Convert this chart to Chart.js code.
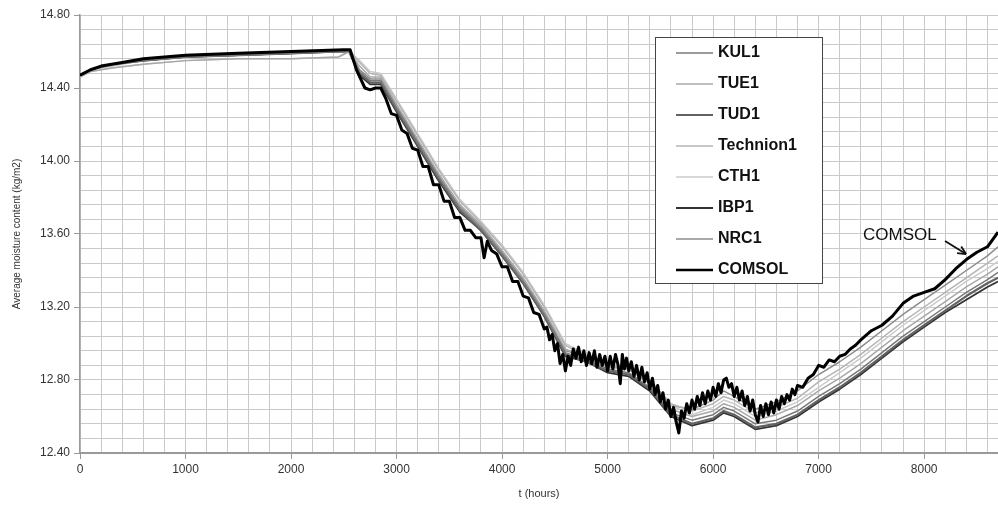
<!DOCTYPE html>
<html>
<head>
<meta charset="utf-8">
<script src="https://cdn.jsdelivr.net/npm/chart.js@4.4.1/dist/chart.umd.min.js"></script>
<style>
  html, body { margin: 0; padding: 0; background: #fff; }
  #wrap { width: 998px; height: 506px; position: relative; }
</style>
</head>
<body>
<div id="wrap"><canvas id="myChart"></canvas></div>
<script>
// hours shared by the benchmark series
var hours = [0, 100, 300, 600, 1000, 1500, 2000, 2450, 2550, 2650, 2750, 2850, 3000, 3200, 3400, 3600, 3800, 4000, 4200, 4400, 4600, 4800, 5000, 5200, 5400, 5600, 5800, 6000, 6100, 6200, 6400, 6600, 6800, 7000, 7200, 7400, 7600, 7800, 8000, 8200, 8400, 8600, 8700];

var kul1 = [14.47, 14.50, 14.53, 14.55, 14.57, 14.58, 14.59, 14.60, 14.60, 14.49, 14.44, 14.44, 14.29, 14.10, 13.91, 13.74, 13.63, 13.49, 13.34, 13.16, 12.95, 12.91, 12.86, 12.84, 12.76, 12.62, 12.58, 12.61, 12.65, 12.63, 12.56, 12.58, 12.63, 12.71, 12.78, 12.86, 12.95, 13.04, 13.12, 13.20, 13.28, 13.35, 13.39];
var tue1 = [14.46, 14.49, 14.51, 14.53, 14.55, 14.56, 14.56, 14.57, 14.60, 14.52, 14.46, 14.46, 14.31, 14.12, 13.93, 13.76, 13.65, 13.51, 13.36, 13.18, 12.97, 12.92, 12.87, 12.86, 12.78, 12.64, 12.60, 12.63, 12.67, 12.65, 12.58, 12.61, 12.66, 12.74, 12.81, 12.89, 12.98, 13.07, 13.15, 13.23, 13.31, 13.38, 13.42];
var tud1 = [14.47, 14.50, 14.53, 14.55, 14.57, 14.58, 14.59, 14.60, 14.60, 14.48, 14.43, 14.43, 14.28, 14.09, 13.90, 13.73, 13.62, 13.48, 13.33, 13.15, 12.94, 12.90, 12.85, 12.83, 12.75, 12.61, 12.56, 12.59, 12.63, 12.61, 12.54, 12.56, 12.61, 12.69, 12.76, 12.84, 12.93, 13.02, 13.10, 13.18, 13.26, 13.33, 13.36];
var technion1 = [14.47, 14.50, 14.52, 14.55, 14.57, 14.58, 14.59, 14.60, 14.61, 14.54, 14.48, 14.47, 14.33, 14.14, 13.95, 13.78, 13.66, 13.53, 13.38, 13.20, 12.99, 12.93, 12.88, 12.87, 12.80, 12.67, 12.63, 12.67, 12.71, 12.69, 12.62, 12.65, 12.70, 12.79, 12.86, 12.94, 13.03, 13.12, 13.20, 13.28, 13.36, 13.44, 13.48];
var cth1 = [14.46, 14.49, 14.51, 14.53, 14.55, 14.56, 14.56, 14.57, 14.60, 14.55, 14.49, 14.48, 14.34, 14.15, 13.96, 13.79, 13.67, 13.54, 13.39, 13.21, 13.00, 12.94, 12.88, 12.87, 12.79, 12.66, 12.61, 12.65, 12.69, 12.67, 12.60, 12.63, 12.68, 12.76, 12.84, 12.92, 13.01, 13.10, 13.18, 13.26, 13.34, 13.41, 13.45];
var ibp1 = [14.47, 14.50, 14.53, 14.55, 14.57, 14.58, 14.59, 14.60, 14.60, 14.47, 14.42, 14.42, 14.27, 14.08, 13.89, 13.72, 13.62, 13.48, 13.33, 13.15, 12.93, 12.90, 12.84, 12.82, 12.74, 12.60, 12.55, 12.58, 12.62, 12.60, 12.53, 12.55, 12.60, 12.68, 12.75, 12.83, 12.92, 13.01, 13.09, 13.17, 13.24, 13.31, 13.34];
var nrc1 = [14.47, 14.50, 14.53, 14.55, 14.57, 14.58, 14.59, 14.60, 14.61, 14.50, 14.45, 14.45, 14.30, 14.11, 13.92, 13.75, 13.64, 13.50, 13.35, 13.17, 12.96, 12.93, 12.88, 12.86, 12.79, 12.66, 12.64, 12.69, 12.74, 12.71, 12.64, 12.68, 12.74, 12.83, 12.90, 12.98, 13.07, 13.16, 13.24, 13.32, 13.40, 13.48, 13.53];

// COMSOL is noisy, read on a finer set of hours
var hoursComsol = [0, 100, 200, 400, 600, 800, 1000, 1500, 2000, 2500, 2560, 2620, 2700, 2750, 2800, 2850,
  2900, 2950, 3000, 3050, 3100, 3150, 3200, 3250, 3300, 3350, 3400, 3450, 3500, 3550, 3600, 3650, 3700, 3750, 3800, 3830, 3860, 3900, 3950, 4000, 4050, 4100, 4150, 4200, 4250, 4300, 4350, 4400,
  4425, 4450, 4475, 4500, 4525, 4550, 4575, 4600, 4625, 4650, 4675, 4700, 4725, 4750, 4775, 4800, 4825, 4850, 4875, 4900, 4925, 4950, 4975, 5000, 5025, 5050, 5075, 5100, 5120, 5140, 5160, 5180, 5200, 5225, 5250, 5275, 5300, 5325, 5350, 5375, 5400, 5425, 5450, 5475, 5500, 5525, 5550, 5575, 5600, 5625, 5650, 5675, 5700, 5725, 5750, 5775, 5800, 5825, 5850, 5875, 5900, 5925, 5950, 5975, 6000, 6025, 6050, 6075, 6100, 6125, 6150, 6175, 6200, 6225, 6250, 6275, 6300, 6325, 6350, 6375, 6400, 6425, 6450, 6475, 6500, 6525, 6550, 6575, 6600, 6625, 6650, 6675, 6700, 6725, 6750, 6775, 6800, 6850, 6900, 6950, 7000,
  7050, 7100, 7150, 7200, 7250, 7300, 7350, 7400, 7500, 7600, 7700, 7800, 7900, 8000, 8100, 8200, 8300, 8400, 8500, 8600, 8700];
var comsol = [14.47, 14.50, 14.52, 14.54, 14.56, 14.57, 14.58, 14.59, 14.60, 14.61, 14.61, 14.50, 14.40, 14.39, 14.40, 14.40,
  14.34, 14.26, 14.25, 14.17, 14.15, 14.07, 14.06, 13.97, 13.97, 13.87, 13.87, 13.78, 13.78, 13.69, 13.69, 13.62, 13.62, 13.58, 13.58, 13.47, 13.56, 13.51, 13.49, 13.42, 13.42, 13.34, 13.34, 13.26, 13.25, 13.17, 13.16, 13.08,
  13.09, 13.02, 13.05, 12.96, 13.00, 12.89, 12.94, 12.85, 12.93, 12.88, 12.97, 12.92, 12.98, 12.90, 12.96, 12.88, 12.95, 12.89, 12.96, 12.87, 12.94, 12.88, 12.93, 12.85, 12.93, 12.86, 12.94, 12.88, 12.78, 12.94, 12.86, 12.92, 12.85, 12.90, 12.82, 12.88, 12.80, 12.87, 12.79, 12.84, 12.75, 12.81, 12.72, 12.77, 12.68, 12.73, 12.64, 12.69, 12.60, 12.65, 12.57, 12.51, 12.63, 12.59, 12.67, 12.62, 12.69, 12.64, 12.71, 12.66, 12.73, 12.67, 12.74, 12.69, 12.76, 12.71, 12.78, 12.73, 12.80, 12.81, 12.76, 12.78, 12.71, 12.76, 12.69, 12.74, 12.66, 12.71, 12.63, 12.69, 12.61, 12.57, 12.66, 12.60, 12.67, 12.61, 12.68, 12.62, 12.69, 12.64, 12.71, 12.67, 12.72, 12.69, 12.75, 12.72, 12.77, 12.76, 12.81, 12.83, 12.88,
  12.87, 12.91, 12.90, 12.93, 12.94, 12.97, 12.99, 13.02, 13.07, 13.10, 13.15, 13.22, 13.26, 13.28, 13.30, 13.35, 13.41, 13.46, 13.50, 13.53, 13.61];

var seriesNames = ['KUL1', 'TUE1', 'TUD1', 'Technion1', 'CTH1', 'IBP1', 'NRC1', 'COMSOL'];
var seriesColors = ['#7a7a7a', '#a8a8a8', '#626262', '#b4b4b4', '#cbcbcb', '#333333', '#8c8c8c', '#000000'];
var seriesWidths = [1.5, 1.5, 2.2, 1.5, 1.5, 1.8, 1.5, 3];

function pts(xs, ys) {
  return xs.map(function (h, i) { return { x: h, y: ys[i] }; });
}

var seriesData = [
  pts(hours, kul1), pts(hours, tue1), pts(hours, tud1), pts(hours, technion1),
  pts(hours, cth1), pts(hours, ibp1), pts(hours, nrc1), pts(hoursComsol, comsol)
];

var FONT = '"Liberation Sans", Arial, sans-serif';

// legend box + COMSOL arrow, drawn over the lines
var boxLegend = {
  id: 'boxLegend',
  afterDatasetsDraw: function (chart) {
    var c = chart.ctx;
    c.save();
    c.fillStyle = '#fff';
    c.fillRect(655, 37, 167, 246);
    c.strokeStyle = '#444';
    c.lineWidth = 1;
    c.strokeRect(655.5, 37.5, 167, 246);
    c.font = 'bold 16px ' + FONT;
    c.textBaseline = 'middle';
    c.fillStyle = '#111';
    chart.data.datasets.forEach(function (ds, i) {
      var y = 53 + i * 31;
      c.strokeStyle = ds.borderColor;
      c.lineWidth = Math.min(ds.borderWidth, 2.4);
      c.beginPath();
      c.moveTo(676, y);
      c.lineTo(713, y);
      c.stroke();
      c.fillText(ds.label, 718, y);
    });

    var xs = chart.scales.x, ys = chart.scales.y;
    c.font = '17px ' + FONT;
    c.fillStyle = '#111';
    c.textBaseline = 'middle';
    c.fillText('COMSOL', xs.getPixelForValue(7421), ys.getPixelForValue(13.595));
    var x1 = xs.getPixelForValue(8198), y1 = ys.getPixelForValue(13.562);
    var x2 = xs.getPixelForValue(8397), y2 = ys.getPixelForValue(13.49);
    c.strokeStyle = '#111';
    c.lineWidth = 1.8;
    c.beginPath();
    c.moveTo(x1, y1);
    c.lineTo(x2, y2);
    c.stroke();
    var a = Math.atan2(y2 - y1, x2 - x1);
    c.beginPath();
    c.moveTo(x2, y2);
    c.lineTo(x2 - 9 * Math.cos(a - 0.45), y2 - 9 * Math.sin(a - 0.45));
    c.moveTo(x2, y2);
    c.lineTo(x2 - 9 * Math.cos(a + 0.45), y2 - 9 * Math.sin(a + 0.45));
    c.stroke();
    c.restore();
  }
};

var ctx = document.getElementById('myChart').getContext('2d');
var myChart = new Chart(ctx, {
  type: 'line',
  data: {
    datasets: seriesNames.map(function (name, i) {
      return {
        label: name,
        data: seriesData[i],
        borderColor: seriesColors[i],
        borderWidth: seriesWidths[i],
        borderJoinStyle: 'round',
        pointRadius: 0,
        tension: 0,
        fill: false,
        order: name === 'COMSOL' ? 0 : 1
      };
    })
  },
  options: {
    responsive: true,
    maintainAspectRatio: false,
    animation: false,
    layout: { padding: { top: 15, right: -3, left: 0, bottom: 0 } },
    plugins: {
      legend: { display: false },
      tooltip: { enabled: false }
    },
    scales: {
      x: {
        type: 'linear',
        min: 0,
        max: 8700,
        afterFit: function (s) { s.height = 53; },
        ticks: {
          stepSize: 200,
          includeBounds: false,
          autoSkip: false,
          maxRotation: 0,
          padding: 3,
          color: '#333',
          font: { family: FONT, size: 12 },
          callback: function (v) { return Math.round(v) % 1000 === 0 ? String(Math.round(v)) : ''; }
        },
        grid: {
          color: '#c9c9c9',
          tickLength: 6,
          tickColor: function (c) { return c.tick && Math.round(c.tick.value) % 1000 === 0 ? '#999' : 'rgba(0,0,0,0)'; }
        },
        border: { color: '#9a9a9a', width: 2 },
        title: {
          display: true,
          text: 't (hours)',
          color: '#333',
          font: { family: FONT, size: 11 },
          padding: { top: 0, bottom: 5 }
        }
      },
      y: {
        min: 12.4,
        max: 14.8,
        afterFit: function (s) { s.width = 80; },
        ticks: {
          stepSize: 0.08,
          autoSkip: false,
          padding: 4,
          color: '#333',
          font: { family: FONT, size: 12 },
          callback: function (v) { return Math.round(v * 100) % 40 === 0 ? v.toFixed(2) : ''; }
        },
        grid: {
          color: '#c9c9c9',
          tickLength: 6,
          tickColor: function (c) { return c.tick && Math.round(c.tick.value * 100) % 40 === 0 ? '#999' : 'rgba(0,0,0,0)'; }
        },
        border: { color: '#9a9a9a', width: 1.5 },
        title: {
          display: true,
          text: 'Average moisture content (kg/m2)',
          color: '#333',
          font: { family: FONT, size: 10 },
          padding: { top: 11, bottom: 0 }
        }
      }
    }
  },
  plugins: [boxLegend]
});
</script>
</body>
</html>
